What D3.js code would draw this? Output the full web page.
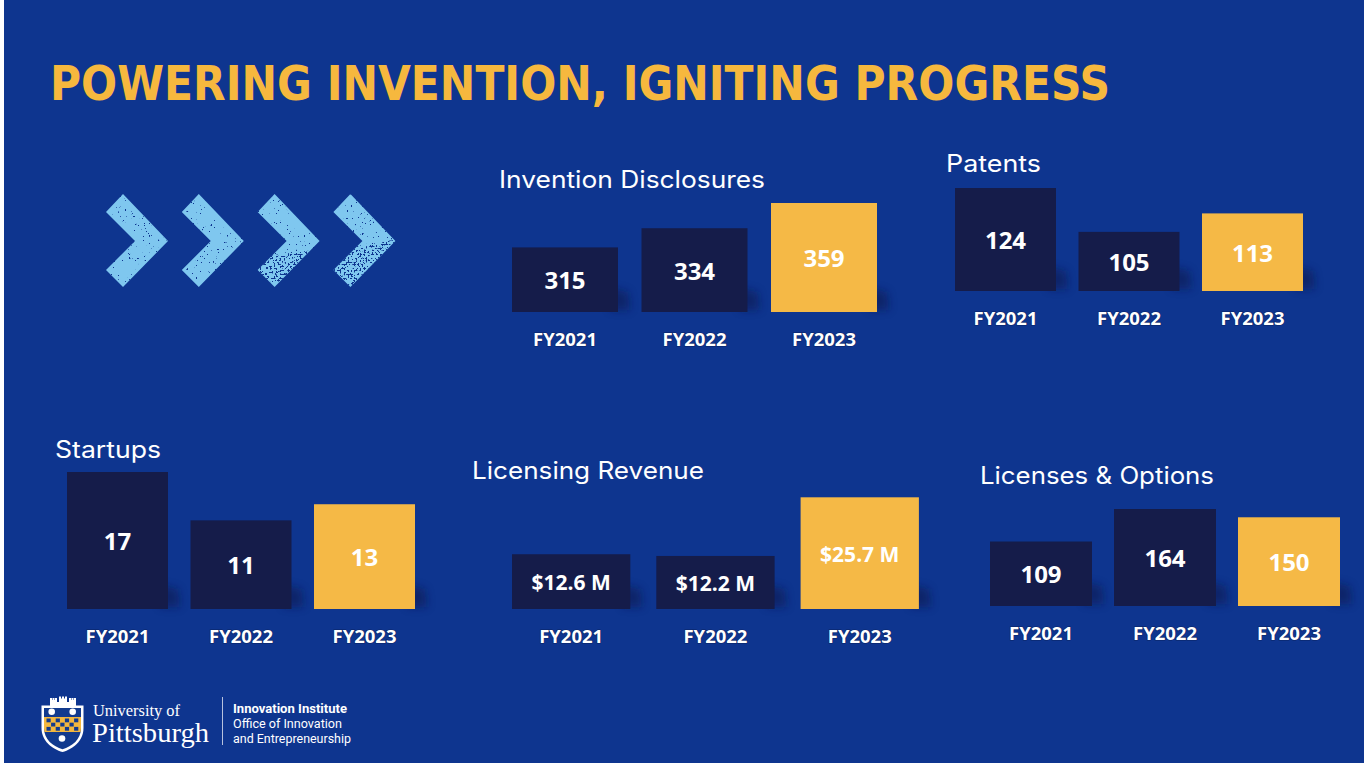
<!DOCTYPE html>
<html><head><meta charset="utf-8">
<script src="https://cdn.jsdelivr.net/npm/d3@7"></script>
<style>
html,body{margin:0;padding:0;background:#fff;}
svg{display:block;}
</style></head>
<body>
<svg id="chart" width="1368" height="768"></svg>
<script>
// ---- data ----
const years = ["FY2021", "FY2022", "FY2023"];
const inventionDisclosures = [315, 334, 359];
const patents = [124, 105, 113];
const startups = [17, 11, 13];
const licensingRevenue = [12.6, 12.2, 25.7];   // $ millions
const licensesOptions = [109, 164, 150];
const panelTitles = ["Invention Disclosures", "Patents", "Startups", "Licensing Revenue", "Licenses & Options"];
const mainTitle = "POWERING INVENTION, IGNITING PROGRESS";

// ---- styles ----
const BG = "#0e358f", DARK = "#151c4a", GOLD = "#f5b946", TITLE = "#f6b83e";

const svg = d3.select("#chart");
const defs = svg.append("defs");

// shadow blur
defs.append("filter").attr("id", "blur").attr("x", "-50%").attr("y", "-50%").attr("width", "200%").attr("height", "200%")
  .append("feGaussianBlur").attr("stdDeviation", 4);

// speckle filters for chevrons (sign: -1 keeps low noise, +1 keeps high noise)
function speckFilter(id, freq, thr, sign) {
  const f = defs.append("filter").attr("id", id).attr("x", 0).attr("y", 0).attr("width", "100%").attr("height", "100%");
  f.append("feTurbulence").attr("type", "fractalNoise").attr("baseFrequency", freq).attr("numOctaves", 2).attr("seed", 7).attr("result", "n");
  f.append("feColorMatrix").attr("in", "n").attr("type", "matrix")
    .attr("values", `0 0 0 0 0  0 0 0 0 0  0 0 0 0 0  ${30 * sign} 0 0 0 ${-30 * sign * thr}`).attr("result", "m");
  f.append("feComposite").attr("in", "SourceGraphic").attr("in2", "m").attr("operator", "in");
}
speckFilter("speckA", 0.45, 0.74, -1);
speckFilter("speckB", 0.5, 0.56, 1);

// background
svg.append("rect").attr("x", 4).attr("y", 0).attr("width", 1360).attr("height", 763).attr("fill", BG);

// title
svg.append("text").attr("x", 50).attr("y", 100)
  .attr("font-family", "'DejaVu Sans Condensed','DejaVu Sans',sans-serif")
  .attr("font-stretch", "condensed")
  .attr("font-weight", 700).attr("font-size", 47.5)
  .attr("fill", TITLE)
  .attr("textLength", 1060).attr("lengthAdjust", "spacingAndGlyphs")
  .text(mainTitle);

// chevrons
const chevrons = [0, 1, 2, 3];
const chevStep = 75.8;
const chevPts = [[123, 194], [168, 241], [123, 287], [106, 270], [135, 241], [106, 212]];
const chevG = svg.append("g");
chevG.selectAll("polygon.c").data(chevrons).join("polygon").attr("class", "c")
  .attr("points", d => chevPts.map(p => [p[0] + d * chevStep, p[1]].join(",")).join(" "))
  .attr("fill", "#7fc7ef")
  .attr("filter", "url(#speckA)");
// heavier wear at the lower part of the last two chevrons
const wearClip = defs.append("clipPath").attr("id", "wear");
wearClip.append("polygon").attr("points", "250,258 410,238 410,292 250,292");
chevG.append("g").attr("clip-path", "url(#wear)").selectAll("polygon").data([2, 3]).join("polygon")
  .attr("points", d => chevPts.map(p => [p[0] + d * chevStep, p[1]].join(",")).join(" "))
  .attr("fill", BG)
  .attr("filter", "url(#speckB)");

// ---- panels ----
const panels = [
  { title: panelTitles[0], tl: 266, values: inventionDisclosures, tx: 499, ty: 188, x0: 512, w: 106, gap: 23.5, base: 312, dmin: 251, top: 203, fmt: d => d3.format("d")(d) },
  { title: panelTitles[1], tl: 95, values: patents, tx: 946, ty: 172, x0: 955, w: 101, gap: 22.5, base: 291, dmin: 79.4, top: 188, fmt: d => d3.format("d")(d) },
  { title: panelTitles[2], tl: 106, values: startups, tx: 55, ty: 458, x0: 67, w: 101, gap: 22.5, base: 609, dmin: 0, top: 472, fmt: d => d3.format("d")(d) },
  { title: panelTitles[3], tl: 232, values: licensingRevenue, tx: 472, ty: 479, x0: 512, w: 118.3, gap: 26, base: 609, dmin: 0, top: 497.3, fmt: d => "$" + d3.format(".1f")(d) + " M" },
  { title: panelTitles[4], tl: 234, values: licensesOptions, tx: 980, ty: 484, x0: 990, w: 102, gap: 22, base: 606, dmin: 0, top: 509, fmt: d => d3.format("d")(d) }
];

panels.forEach(p => {
  const g = svg.append("g");
  const total = 3 * p.w + 2 * p.gap;
  const x = d3.scaleBand().domain(years).range([p.x0, p.x0 + total]).paddingInner(p.gap / (p.w + p.gap)).paddingOuter(0);
  const y = d3.scaleLinear().domain([p.dmin, d3.max(p.values)]).range([p.base, p.top]);
  const data = years.map((yr, i) => ({ yr, v: p.values[i], i }));

  // title
  g.append("text").attr("x", p.tx).attr("y", p.ty)
    .attr("font-family", "Inter, Roboto, sans-serif").attr("font-size", 24)
    .attr("fill", "#fff").attr("textLength", p.tl).attr("lengthAdjust", "spacingAndGlyphs").text(p.title);

  // shadows
  g.selectAll("path.sh").data(data).join("path").attr("class", "sh")
    .attr("d", d => {
      const r = x(d.yr) + x.bandwidth();
      return `M${r - 8},${p.base - 24} L${r + 10},${p.base - 20} L${r + 12},${p.base - 2} L${r - 8},${p.base - 2} Z`;
    })
    .attr("fill", "#08184c").attr("opacity", 0.55).attr("filter", "url(#blur)");

  // bars
  g.selectAll("rect.bar").data(data).join("rect").attr("class", "bar")
    .attr("x", d => x(d.yr)).attr("width", x.bandwidth())
    .attr("y", d => y(d.v)).attr("height", d => p.base - y(d.v))
    .attr("fill", d => d.i === 2 ? GOLD : DARK);

  // value labels
  g.selectAll("text.val").data(data).join("text").attr("class", "val")
    .attr("x", d => x(d.yr) + x.bandwidth() / 2)
    .attr("y", d => (y(d.v) + p.base) / 2 + 1)
    .attr("dy", "0.36em").attr("text-anchor", "middle")
    .attr("font-family", "'Open Sans', sans-serif").attr("font-weight", 700)
    .attr("font-size", p.fmt(p.values[0]).length > 4 ? 21 : 24)
    .attr("fill", "#fff").text(d => p.fmt(d.v));

  // category labels
  g.selectAll("text.cat").data(data).join("text").attr("class", "cat")
    .attr("x", d => x(d.yr) + x.bandwidth() / 2)
    .attr("y", p.base + 27).attr("dy", "0.36em").attr("text-anchor", "middle")
    .attr("font-family", "'Open Sans', sans-serif").attr("font-weight", 700).attr("font-size", 18.5)
    .attr("fill", "#fff")
    .style("paint-order", "stroke").attr("stroke", "#0a2466").attr("stroke-width", 1.2)
    .text(d => d.yr);
});

// ---- logo ----
const logo = svg.append("g");
const shieldOuter = "M41.5,705.5 L83.5,705.5 L83.5,728 C83.5,741 73,749 62.5,752 C52,749 41.5,741 41.5,728 Z";
const shieldInner = "M44,708 L81,708 L81,728 C81,739.5 72,746.5 62.5,749.2 C53,746.5 44,739.5 44,728 Z";
const towers = [[50, 8], [59, 9.5], [69, 8]];
towers.forEach(([tx, h], i) => {
  const tw = i === 1 ? 8 : 7;
  const top = 706 - h;
  logo.append("rect").attr("x", tx).attr("y", top + 2).attr("width", tw).attr("height", h - 1).attr("fill", "#fff");
  [0, 1, 2].forEach(k => logo.append("rect").attr("x", tx + k * (tw - 2) / 2).attr("y", top).attr("width", 2).attr("height", 2.5).attr("fill", "#fff"));
});
logo.append("rect").attr("x", 50).attr("y", 702).attr("width", 26).attr("height", 4).attr("fill", "#fff");
logo.append("path").attr("d", shieldOuter).attr("fill", "#fff");
logo.append("path").attr("d", shieldInner).attr("fill", "#123a8e");
const clip = defs.append("clipPath").attr("id", "shieldClip");
clip.append("path").attr("d", shieldInner);
const sg = logo.append("g").attr("clip-path", "url(#shieldClip)");
sg.append("rect").attr("x", 44).attr("y", 717).attr("width", 37).attr("height", 15).attr("fill", "#f3b73f");
const cols = d3.range(7), rows = d3.range(3);
rows.forEach(r => cols.forEach(c => {
  if ((r + c) % 2 === 0) sg.append("rect").attr("x", 46.5 + c * 4.6).attr("y", 718.5 + r * 4.2).attr("width", 4.2).attr("height", 3.8).attr("fill", "#123a8e");
}));
[[51.7, 711.7], [72.7, 711.7], [62, 738.5]].forEach(([cx, cy]) =>
  logo.append("circle").attr("cx", cx).attr("cy", cy).attr("r", 3.3).attr("fill", "#fff"));

logo.append("text").attr("x", 93).attr("y", 716).attr("font-family", "'Liberation Serif', serif").attr("font-size", 17)
  .attr("fill", "#fff").attr("textLength", 87).attr("lengthAdjust", "spacingAndGlyphs").text("University of");
logo.append("text").attr("x", 92).attr("y", 742).attr("font-family", "'Liberation Serif', serif").attr("font-size", 26.5)
  .attr("fill", "#fff").attr("textLength", 117).attr("lengthAdjust", "spacingAndGlyphs").text("Pittsburgh");
logo.append("line").attr("x1", 222.5).attr("x2", 222.5).attr("y1", 697).attr("y2", 745).attr("stroke", "#fff").attr("stroke-opacity", 0.7);
const inst = [["Innovation Institute", 700, 713, 114], ["Office of Innovation", 400, 728, 109], ["and Entrepreneurship", 400, 743, 118]];
inst.forEach(([t, w, yy, len]) => logo.append("text").attr("x", 233).attr("y", yy)
  .attr("font-family", "Roboto, sans-serif").attr("font-weight", w).attr("font-size", 12.5)
  .attr("fill", "#fff").attr("textLength", len).attr("lengthAdjust", "spacingAndGlyphs").text(t));
</script>
</body></html>
